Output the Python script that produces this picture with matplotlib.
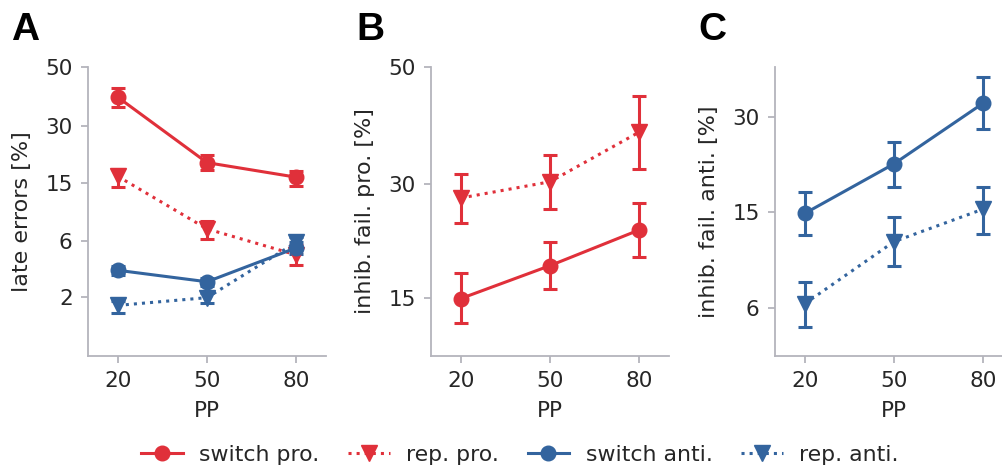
import numpy as np
import matplotlib
matplotlib.use("Agg")
import matplotlib.pyplot as plt
from matplotlib.lines import Line2D
from matplotlib.ticker import NullLocator
from statistics import NormalDist

# ---------------- data (percent) ----------------
pp = [20, 50, 80]

# A: late errors
a_switch_pro = [39.4, 19.7, 16.3]
a_switch_pro_lo = [36.2, 18.0, 14.5]
a_switch_pro_hi = [42.5, 21.7, 17.8]
a_rep_pro = [16.5, 7.45, 4.7]
a_rep_pro_lo = [14.3, 6.3, 3.9]
a_rep_pro_hi = [18.2, 8.5, 5.6]
a_switch_anti = [3.5, 2.78, 5.35]
a_switch_anti_lo = [3.2, 2.55, 4.8]
a_switch_anti_hi = [3.8, 3.0, 5.9]
a_rep_anti = [1.68, 1.99, 5.9]
a_rep_anti_lo = [1.43, 1.78, 5.3]
a_rep_anti_hi = [1.85, 2.2, 6.5]

# B: inhibition failures, pro
b_switch_pro = [14.9, 18.6, 23.2]
b_switch_pro_lo = [12.5, 15.9, 19.7]
b_switch_pro_hi = [17.7, 21.6, 27.1]
b_rep_pro = [27.8, 30.3, 38.5]
b_rep_pro_lo = [24.2, 26.1, 32.3]
b_rep_pro_hi = [31.5, 34.6, 44.8]

# C: inhibition failures, anti
c_switch_anti = [14.85, 21.9, 32.7]
c_switch_anti_lo = [12.3, 18.4, 27.9]
c_switch_anti_hi = [17.7, 25.6, 37.9]
c_rep_anti = [6.3, 11.6, 15.4]
c_rep_anti_lo = [4.9, 9.2, 12.4]
c_rep_anti_hi = [7.9, 14.4, 18.4]

a_ticks = [2, 6, 15, 30, 50]
b_ticks = [15, 30, 50]
c_ticks = [6, 15, 30]

RED = "#E0303A"
BLUE = "#33649E"
SPINE = "#B4B4BC"
TXT = "#262626"

plt.rcParams["font.family"] = ["DejaVu Sans"]
plt.rcParams["font.size"] = 15.5

LW = 2.2

# probit scale for percentages
_nd = NormalDist()


def _fwd(p):
    p = np.clip(np.asarray(p, dtype=float) / 100.0, 1e-9, 1 - 1e-9)
    return np.vectorize(_nd.inv_cdf, otypes=[float])(p)


def _inv(z):
    z = np.asarray(z, dtype=float)
    return 100.0 * np.vectorize(_nd.cdf, otypes=[float])(z)


W, H = 1003, 470
fig = plt.figure(figsize=(W / 100, H / 100), dpi=100)


def make_ax(left_px):
    return fig.add_axes([left_px / W, (H - 356) / H, 238 / W, 289 / H])


def style(ax, ticks, ylim, ylabel):
    ax.set_yscale("function", functions=(_fwd, _inv))
    ax.set_ylim(*ylim)
    ax.set_yticks(ticks, labels=[str(t) for t in ticks])
    ax.yaxis.set_minor_locator(NullLocator())
    ax.set_xlim(10, 90)
    ax.set_xticks(pp, labels=[str(p) for p in pp])
    ax.set_xlabel("PP", color=TXT, labelpad=7, fontsize=15.5)
    ax.set_ylabel(ylabel, color=TXT, labelpad=9.5, fontsize=16)
    for s in ("top", "right"):
        ax.spines[s].set_visible(False)
    for s in ("left", "bottom"):
        ax.spines[s].set_color(SPINE)
        ax.spines[s].set_linewidth(1.3)
    ax.tick_params(axis="both", colors=SPINE, labelcolor=TXT, length=5,
                   width=1.3, labelsize=15.5, pad=6)


def series(ax, y, lo, hi, color, ls, marker):
    y = np.asarray(y)
    err = [y - np.asarray(lo), np.asarray(hi) - y]
    ax.errorbar(pp, y, yerr=err, color=color, ls=ls, lw=LW, marker=marker,
                ms=10.5 if marker == "o" else 11, mec=color, mfc=color,
                elinewidth=LW, capsize=4.8, capthick=LW, clip_on=False)


axA = make_ax(88)
series(axA, a_switch_pro, a_switch_pro_lo, a_switch_pro_hi, RED, "-", "o")
series(axA, a_rep_pro, a_rep_pro_lo, a_rep_pro_hi, RED, ":", "v")
series(axA, a_switch_anti, a_switch_anti_lo, a_switch_anti_hi, BLUE, "-", "o")
series(axA, a_rep_anti, a_rep_anti_lo, a_rep_anti_hi, BLUE, ":", "v")
style(axA, a_ticks, (0.5, 50), "late errors [%]")

axB = make_ax(431)
series(axB, b_switch_pro, b_switch_pro_lo, b_switch_pro_hi, RED, "-", "o")
series(axB, b_rep_pro, b_rep_pro_lo, b_rep_pro_hi, RED, ":", "v")
style(axB, b_ticks, (9.7, 50), "inhib. fail. pro. [%]")

axC = make_ax(775)
series(axC, c_switch_anti, c_switch_anti_lo, c_switch_anti_hi, BLUE, "-", "o")
series(axC, c_rep_anti, c_rep_anti_lo, c_rep_anti_hi, BLUE, ":", "v")
style(axC, c_ticks, (3.5, 40), "inhib. fail. anti. [%]")

# panel letters
for x_px, letter in [(11, "A"), (356, "B"), (698, "C")]:
    fig.text(x_px / W, 1 - 40 / H, letter, fontsize=28, fontweight="bold",
             family="Liberation Sans", va="baseline", ha="left")

# shared legend
handles = [
    Line2D([], [], color=RED, ls="-", lw=LW, marker="o", ms=10.5),
    Line2D([], [], color=RED, ls=":", lw=LW, marker="v", ms=11),
    Line2D([], [], color=BLUE, ls="-", lw=LW, marker="o", ms=10.5),
    Line2D([], [], color=BLUE, ls=":", lw=LW, marker="v", ms=11),
]
labels = ["switch pro.", "rep. pro.", "switch anti.", "rep. anti."]
leg = fig.legend(handles, labels, loc="center", ncol=4, frameon=False,
                 bbox_to_anchor=(520 / W, 1 - 455 / H), numpoints=1,
                 fontsize=15.8, handlelength=1.9, handletextpad=0.75,
                 columnspacing=1.3)
for t in leg.get_texts():
    t.set_color(TXT)

fig.savefig("out.png", dpi=100)
